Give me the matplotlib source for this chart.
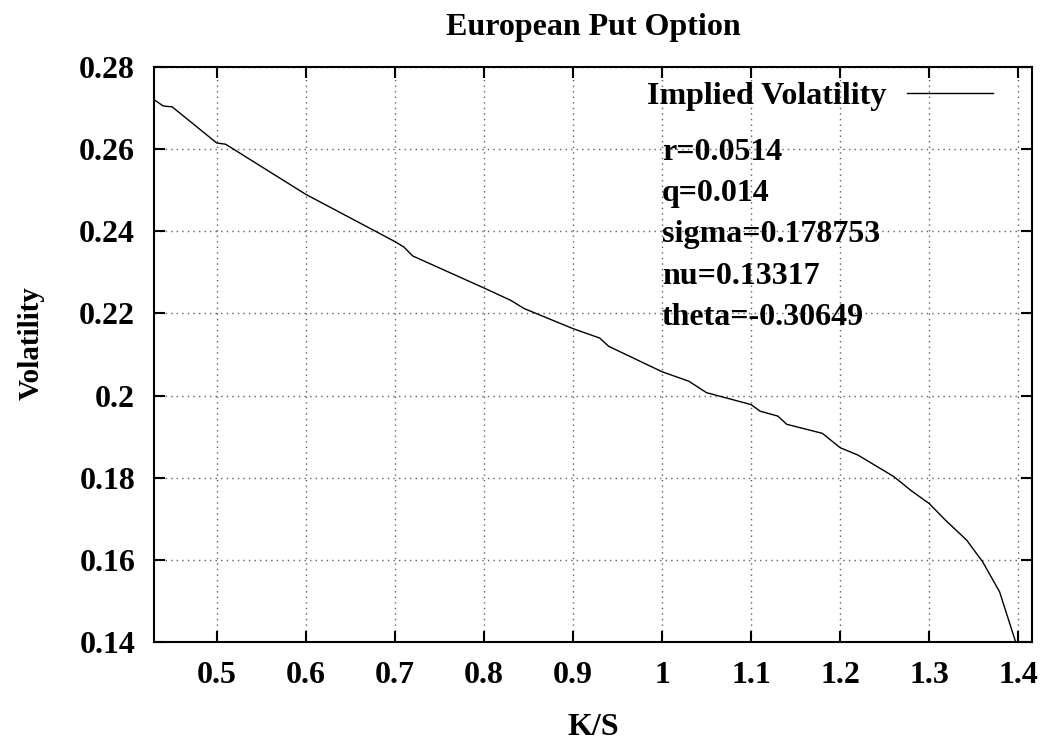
import matplotlib
matplotlib.use('Agg')
import matplotlib.pyplot as plt

# implied volatility curve
ks = [0.43, 0.44, 0.45, 0.5, 0.51, 0.6, 0.7, 0.71, 0.72, 0.8, 0.83, 0.845,
      0.9, 0.93, 0.94, 1.0, 1.03, 1.05, 1.1, 1.11, 1.13, 1.14, 1.18, 1.2,
      1.22, 1.26, 1.28, 1.3, 1.318, 1.342, 1.36, 1.379, 1.397]
vol = [0.272, 0.2705, 0.2703, 0.2615, 0.2612, 0.249, 0.2375, 0.2362, 0.234,
       0.2262, 0.2232, 0.2212, 0.2163, 0.214, 0.212, 0.2058, 0.2035, 0.2007,
       0.1978, 0.1962, 0.195, 0.193, 0.1908, 0.1873, 0.1855, 0.1803, 0.1768,
       0.1737, 0.1697, 0.1648, 0.1595, 0.1522, 0.14]

params = ['r=0.0514', 'q=0.014', 'sigma=0.178753', 'nu=0.13317', 'theta=-0.30649']
xticks = [0.5, 0.6, 0.7, 0.8, 0.9, 1, 1.1, 1.2, 1.3, 1.4]
xticklabels = ['0.5', '0.6', '0.7', '0.8', '0.9', '1', '1.1', '1.2', '1.3', '1.4']
yticks = [0.14, 0.16, 0.18, 0.2, 0.22, 0.24, 0.26, 0.28]
yticklabels = ['0.14', '0.16', '0.18', '0.2', '0.22', '0.24', '0.26', '0.28']

plt.rcParams['font.family'] = ['Liberation Serif', 'DejaVu Serif']
plt.rcParams['font.weight'] = 'bold'

FS = 23

fig = plt.figure(figsize=(10.44, 7.42), dpi=100)
ax = fig.add_axes([0.1475, 0.1348, 0.9882 - 0.1475, 0.9097 - 0.1348])

ax.plot(ks, vol, color='black', linewidth=1.0, label='Implied Volatility')

ax.set_xlim(0.4296, 1.415)
ax.set_ylim(0.14, 0.28)
ax.set_xticks(xticks)
ax.set_xticklabels(xticklabels)
ax.set_yticks(yticks)
ax.set_yticklabels(yticklabels)
ax.tick_params(direction='in', length=8, width=1.5, top=True, right=True,
               labelsize=FS)
ax.tick_params(axis='y', pad=13.5)
ax.tick_params(axis='x', pad=14)
for sp in ax.spines.values():
    sp.set_linewidth(1.5)
ax.grid(True, linestyle=(0, (1, 3)), color='#606060', linewidth=1.0)

ax.set_title('European Put Option', fontsize=FS, fontweight='bold', pad=23)
ax.set_xlabel('K/S', fontsize=FS, fontweight='bold', labelpad=16)
ax.set_ylabel('Volatility', fontsize=21, fontweight='bold')
ax.yaxis.set_label_coords(-0.125, 0.52)

leg = ax.legend(loc='upper right', markerfirst=False, frameon=False,
                fontsize=FS, handlelength=2.7, handletextpad=0.63,
                borderpad=0, borderaxespad=0,
                bbox_to_anchor=(0.956, 0.974))

for i, s in enumerate(params):
    ax.text(0.5784, 0.8383 - i * 0.0717, s, transform=ax.transAxes,
            fontsize=FS, fontweight='bold', va='baseline', ha='left')

fig.savefig('out.png', dpi=100)
